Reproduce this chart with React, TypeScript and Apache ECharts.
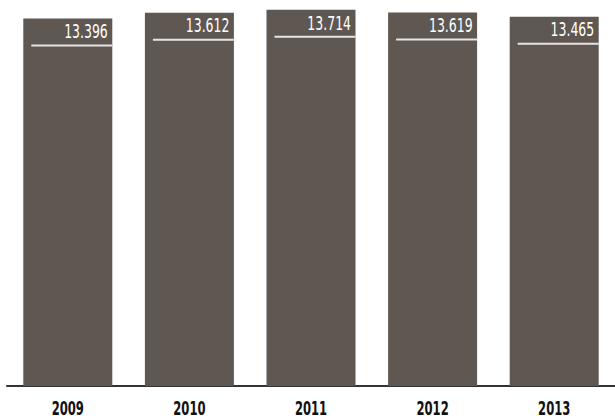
import React, { useEffect, useRef } from "react";
import * as echarts from "echarts";

const years = ["2009", "2010", "2011", "2012", "2013"];
const values = [13.396, 13.612, 13.714, 13.619, 13.465];

const BAR_COLOR = "#5f5751";
const BAR_WIDTH = 89;
const FONT = "'DejaVu Sans Condensed', 'DejaVu Sans', sans-serif";

export default function App() {
  const ref = useRef<HTMLDivElement>(null);
  useEffect(() => {
    if (!ref.current) return;
    const chart = echarts.init(ref.current, null, { renderer: "svg" });
    chart.setOption({
      animation: false,
      grid: { left: 7, width: 613, top: 2, bottom: 33 },
      xAxis: {
        type: "category",
        data: years,
        axisLine: { show: true, lineStyle: { color: "#333333", width: 2 } },
        axisTick: { show: false },
        axisLabel: { show: false },
      },
      yAxis: {
        type: "value",
        min: 0,
        max: 14,
        show: false,
        splitLine: { show: false },
      },
      series: [
        {
          type: "bar",
          data: values,
          barWidth: BAR_WIDTH,
          itemStyle: { color: BAR_COLOR },
        },
        {
          type: "custom",
          clip: false,
          data: values.map((v, i) => [i, v, years[i]]),
          z: 10,
          renderItem: (params: any, api: any) => {
            const i = api.value(0);
            const v = api.value(1);
            const top = api.coord([i, v]);
            const base = api.coord([i, 0]);
            const half = BAR_WIDTH / 2;
            const right = top[0] + half;
            const ly = top[1] + 27;
            return {
              type: "group",
              children: [
                {
                  type: "line",
                  shape: { x1: top[0] - half + 8, y1: ly, x2: right, y2: ly },
                  style: { stroke: "#e8e5e1", lineWidth: 2 },
                },
                {
                  type: "text",
                  x: right - 4.5,
                  y: top[1] + 13.5,
                  scaleX: 0.73,
                  style: {
                    text: v.toFixed(3),
                    fill: "#ffffff",
                    font: "19px " + FONT,
                    lineHeight: 16,
                    align: "right",
                    verticalAlign: "middle",
                  },
                },
                {
                  type: "text",
                  x: base[0],
                  y: base[1] + 22.5,
                  scaleX: 0.66,
                  style: {
                    text: years[i],
                    fill: "#111111",
                    font: "bold 19.5px " + FONT,
                    lineHeight: 15,
                    align: "center",
                    verticalAlign: "middle",
                  },
                },
              ],
            };
          },
        },
      ],
    });
    return () => chart.dispose();
  }, []);
  return (
    <div
      ref={ref}
      style={{ position: "absolute", left: 0, top: 0, width: 615, height: 419 }}
    />
  );
}
